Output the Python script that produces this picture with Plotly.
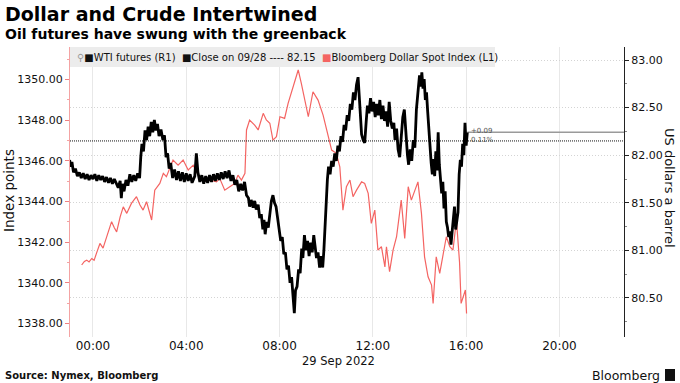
import pandas as pd
import plotly.graph_objects as go

# ---------------- data ----------------
WTI_TIME = [
    "28 23:00", "28 23:03", "28 23:06", "28 23:10", "28 23:15", "28 23:20", "28 23:25", "28 23:30",
    "28 23:35", "28 23:40", "28 23:45", "28 23:50", "28 23:55",
    "29 00:00", "29 00:05", "29 00:10", "29 00:15", "29 00:20", "29 00:25", "29 00:30", "29 00:35",
    "29 00:40", "29 00:45", "29 00:50", "29 00:55", "29 01:00", "29 01:05", "29 01:10", "29 01:13",
    "29 01:16", "29 01:20", "29 01:25", "29 01:30", "29 01:35", "29 01:40", "29 01:45", "29 01:50",
    "29 01:55", "29 02:00", "29 02:03", "29 02:06", "29 02:10", "29 02:14", "29 02:18", "29 02:22",
    "29 02:26", "29 02:30", "29 02:34", "29 02:38", "29 02:42", "29 02:46", "29 02:50", "29 02:55",
    "29 03:00", "29 03:04", "29 03:08", "29 03:12", "29 03:16", "29 03:20", "29 03:25", "29 03:30",
    "29 03:35", "29 03:40", "29 03:45", "29 03:50", "29 03:55", "29 04:00", "29 04:05", "29 04:10",
    "29 04:15", "29 04:22", "29 04:26", "29 04:30", "29 04:35", "29 04:40", "29 04:45", "29 04:50",
    "29 04:55", "29 05:00", "29 05:05", "29 05:10", "29 05:15", "29 05:20", "29 05:25", "29 05:30",
    "29 05:35", "29 05:40", "29 05:45", "29 05:50", "29 05:55", "29 06:00", "29 06:05", "29 06:10",
    "29 06:15", "29 06:20", "29 06:25", "29 06:30", "29 06:35", "29 06:40", "29 06:43", "29 06:47",
    "29 06:52", "29 06:56", "29 07:00", "29 07:05", "29 07:09", "29 07:13", "29 07:17", "29 07:20",
    "29 07:23", "29 07:27", "29 07:31", "29 07:35", "29 07:39", "29 07:43", "29 07:47", "29 07:51",
    "29 07:55", "29 07:59", "29 08:03", "29 08:07", "29 08:11", "29 08:15", "29 08:19", "29 08:23",
    "29 08:27", "29 08:31", "29 08:35", "29 08:38", "29 08:41", "29 08:45", "29 08:49", "29 08:53",
    "29 08:57", "29 09:00", "29 09:04", "29 09:08", "29 09:12", "29 09:16", "29 09:20", "29 09:24",
    "29 09:28", "29 09:32", "29 09:35", "29 09:39", "29 09:43", "29 09:47", "29 09:51", "29 09:54",
    "29 09:57", "29 10:00", "29 10:03", "29 10:06", "29 10:10", "29 10:14", "29 10:18", "29 10:22",
    "29 10:26", "29 10:30", "29 10:34", "29 10:38", "29 10:42", "29 10:46", "29 10:50", "29 10:54",
    "29 10:58", "29 11:02", "29 11:06", "29 11:10", "29 11:14", "29 11:18", "29 11:22", "29 11:25",
    "29 11:28", "29 11:31", "29 11:35", "29 11:39", "29 11:43", "29 11:46", "29 11:50", "29 11:54",
    "29 11:58", "29 12:02", "29 12:06", "29 12:10", "29 12:14", "29 12:18", "29 12:22", "29 12:26",
    "29 12:30", "29 12:34", "29 12:38", "29 12:42", "29 12:46", "29 12:50", "29 12:54", "29 12:57",
    "29 13:01", "29 13:05", "29 13:09", "29 13:13", "29 13:17", "29 13:21", "29 13:25", "29 13:29",
    "29 13:32", "29 13:36", "29 13:40", "29 13:44", "29 13:48", "29 13:52", "29 13:56", "29 14:00",
    "29 14:03", "29 14:06", "29 14:09", "29 14:12", "29 14:15", "29 14:18", "29 14:21", "29 14:24",
    "29 14:27", "29 14:30", "29 14:33", "29 14:36", "29 14:39", "29 14:42", "29 14:45", "29 14:48",
    "29 14:51", "29 14:54", "29 14:57", "29 15:00", "29 15:03", "29 15:06", "29 15:09", "29 15:12",
    "29 15:15", "29 15:18", "29 15:21", "29 15:24", "29 15:27", "29 15:30", "29 15:33", "29 15:36",
    "29 15:39", "29 15:42", "29 15:45", "29 15:48", "29 15:51", "29 15:54", "29 15:57", "29 16:00",
    "29 16:03",
]
WTI_VALUE = [
    81.95, 81.88, 81.93, 81.82, 81.86, 81.78, 81.82, 81.76,
    81.81, 81.75, 81.80, 81.74, 81.79,
    81.75, 81.80, 81.73, 81.79, 81.74, 81.78, 81.72, 81.77,
    81.71, 81.76, 81.70, 81.75, 81.71, 81.66, 81.73, 81.55,
    81.70, 81.62, 81.74, 81.68, 81.80, 81.72, 81.79, 81.73,
    81.81, 81.76, 81.98, 82.12, 82.04, 82.26, 82.16, 82.30,
    82.20, 82.35, 82.24, 82.37, 82.26, 82.33, 82.20, 82.27,
    82.16, 82.21, 81.98, 82.02, 81.86, 81.92, 81.76, 81.85,
    81.74, 81.83, 81.73, 81.82, 81.72, 81.81, 81.73, 81.80,
    81.71, 81.78, 82.02, 81.82, 81.72, 81.79, 81.70, 81.78,
    81.71, 81.79, 81.72, 81.80, 81.73, 81.81, 81.74, 81.82,
    81.75, 81.83, 81.76, 81.84, 81.73, 81.79, 81.69, 81.74,
    81.62, 81.70, 81.63, 81.72, 81.58, 81.55, 81.46, 81.53,
    81.45, 81.52, 81.43, 81.48, 81.34, 81.38, 81.22, 81.32,
    81.17, 81.30, 81.24, 81.36, 81.52, 81.58, 81.50, 81.46,
    81.34, 81.22, 81.10, 81.14, 80.96, 80.98, 80.80, 80.84,
    80.66, 80.72, 80.52, 80.34, 80.58, 80.62, 80.80, 80.76,
    81.02, 80.92, 81.16, 81.00, 81.10, 80.94, 81.08, 80.98,
    81.16, 81.04, 80.92, 80.98, 80.82, 80.94, 80.82, 81.00,
    81.30, 81.56, 81.74, 81.88, 81.80, 81.94, 81.88, 82.02,
    81.94, 82.10, 82.04, 82.20, 82.14, 82.32, 82.26, 82.42,
    82.36, 82.54, 82.48, 82.66, 82.58, 82.74, 82.82, 82.62,
    82.40, 82.22, 82.16, 82.13, 82.36, 82.52, 82.44, 82.60,
    82.46, 82.56, 82.40, 82.54, 82.42, 82.58, 82.38, 82.52,
    82.36, 82.46, 82.30, 82.56, 82.36, 82.28, 82.34, 82.16,
    82.28, 82.06, 81.98, 82.22, 82.40, 82.48, 82.22, 82.00,
    81.90, 82.06, 81.94, 82.16, 82.08, 82.48, 82.66, 82.84,
    82.72, 82.87, 82.70, 82.80, 82.58, 82.66, 82.46, 82.26,
    82.10, 81.92, 81.80, 81.96, 81.78, 82.04, 81.84, 82.24,
    81.90, 81.70, 81.60, 81.72, 81.44, 81.62, 81.30, 81.24,
    81.14, 81.20, 81.06, 81.20, 81.36, 81.46, 81.22, 81.30,
    81.40, 81.80, 81.95, 81.88, 82.12, 82.00, 82.34, 82.10,
    82.24,
]

DXY_TIME = [
    "28 23:31", "28 23:38", "28 23:44", "28 23:50", "28 23:57", "29 00:03", "29 00:09", "29 00:18",
    "29 00:26", "29 00:35", "29 00:42", "29 00:48", "29 00:55", "29 01:01", "29 01:10", "29 01:18",
    "29 01:27", "29 01:39", "29 01:52", "29 02:01", "29 02:09", "29 02:18", "29 02:31", "29 02:39",
    "29 02:52", "29 03:01", "29 03:09", "29 03:26", "29 03:39", "29 03:52", "29 04:05", "29 04:18",
    "29 04:31", "29 04:44", "29 05:01", "29 05:18", "29 05:26", "29 05:39", "29 05:52", "29 06:05",
    "29 06:13", "29 06:22", "29 06:31", "29 06:35", "29 06:43", "29 06:56", "29 07:05", "29 07:18",
    "29 07:26", "29 07:35", "29 07:43", "29 07:52", "29 08:01", "29 08:13", "29 08:22", "29 08:35",
    "29 08:48", "29 08:56", "29 09:05", "29 09:14", "29 09:26", "29 09:39", "29 09:52", "29 10:05",
    "29 10:14", "29 10:26", "29 10:35", "29 10:43", "29 10:52", "29 11:01", "29 11:09", "29 11:18",
    "29 11:31", "29 11:39", "29 11:48", "29 11:56", "29 12:05", "29 12:13", "29 12:22", "29 12:31",
    "29 12:35", "29 12:43", "29 12:52", "29 13:01", "29 13:13", "29 13:22", "29 13:31", "29 13:39",
    "29 13:48", "29 13:56", "29 14:05", "29 14:13", "29 14:22", "29 14:31", "29 14:35", "29 14:43",
    "29 14:52", "29 15:00", "29 15:09", "29 15:18", "29 15:26", "29 15:35", "29 15:43", "29 15:47",
    "29 15:52", "29 15:58", "29 16:01",
]
DXY_VALUE = [
    1340.87, 1341.05, 1341.11, 1341.02, 1341.19, 1341.10, 1341.44, 1341.93,
    1341.70, 1342.26, 1342.60, 1343.00, 1342.70, 1342.50, 1343.24, 1343.73,
    1343.41, 1343.90, 1344.23, 1343.82, 1343.57, 1343.98, 1343.08, 1344.55,
    1344.88, 1345.38, 1345.21, 1346.03, 1345.78, 1346.03, 1345.54, 1345.78,
    1345.29, 1344.96, 1345.05, 1344.96, 1345.13, 1344.55, 1344.72, 1344.88,
    1345.29, 1345.05, 1345.38, 1347.51, 1348.00, 1347.75, 1347.51, 1348.33,
    1348.00, 1347.84, 1347.01, 1347.18, 1348.16, 1348.08, 1348.82, 1349.64,
    1350.46, 1349.80, 1348.90, 1348.16, 1349.39, 1348.98, 1348.24, 1347.18,
    1346.52, 1346.36, 1345.70, 1343.57, 1344.72, 1345.05, 1344.23, 1344.55,
    1344.96, 1344.88, 1344.39, 1342.92, 1343.57, 1341.60, 1341.77, 1340.78,
    1341.77, 1340.54, 1341.60, 1342.26, 1344.06, 1342.18, 1344.72, 1344.06,
    1344.55, 1344.96, 1343.41, 1341.27, 1340.29, 1339.88, 1338.98, 1341.27,
    1340.46, 1341.27, 1342.26, 1341.77, 1341.60, 1343.08, 1341.00, 1338.98,
    1339.31, 1339.64, 1338.49,
]

CLOSE_PREV = 82.15
X_TICKS = ["29 00:00", "29 04:00", "29 08:00", "29 12:00", "29 16:00", "29 20:00"]
X_TICK_TEXT = ["00:00", "04:00", "08:00", "12:00", "16:00", "20:00"]
X_RANGE = ["28 23:01", "29 22:46"]
Y_LEFT_RANGE = [1337.33, 1351.59]
Y_RIGHT_RANGE = [80.09, 83.137]


def ts(lst):
    return pd.to_datetime(["2022-09-" + s for s in lst])


wti_t = ts(WTI_TIME)
dxy_t = ts(DXY_TIME)
xr = ts(X_RANGE)
last_val = WTI_VALUE[-1]
chg = last_val - CLOSE_PREV
chg_pct = chg / CLOSE_PREV * 100

FONT = "DejaVu Sans"
RED = "#f46462"

fig = go.Figure()

# close on 09/28 reference (dotted)
fig.add_trace(go.Scatter(x=[xr[0], xr[1]], y=[CLOSE_PREV, CLOSE_PREV], yaxis="y2",
                         mode="lines", line=dict(color="#111111", width=1, dash="1px,1px"),
                         hoverinfo="skip", showlegend=False))
# last value line
fig.add_trace(go.Scatter(x=[wti_t[-1], xr[1]], y=[last_val, last_val], yaxis="y2",
                         mode="lines", line=dict(color="#9a9a9a", width=1.5),
                         hoverinfo="skip", showlegend=False))
# WTI futures (right axis)
fig.add_trace(go.Scatter(x=wti_t, y=WTI_VALUE, yaxis="y2", mode="lines",
                         line=dict(color="#000000", width=2.8), name="WTI futures (R1)",
                         showlegend=False))
# Bloomberg Dollar Spot Index (left axis)
fig.add_trace(go.Scatter(x=dxy_t, y=DXY_VALUE, yaxis="y", mode="lines",
                         line=dict(color=RED, width=1.2), name="Bloomberg Dollar Spot Index (L1)",
                         showlegend=False))

W, H = 680, 383
L, R, T, B = 70, 56, 47, 46
PW, PH = W - L - R, H - T - B


def px(x):
    return (x - L) / PW


def py(y):
    return (H - B - y) / PH


annotations = [
    dict(text="<b>Dollar and Crude Intertwined</b>", x=px(3), y=py(14), xref="paper", yref="paper",
         xanchor="left", yanchor="middle", showarrow=False, font=dict(size=19, color="#000", family=FONT)),
    dict(text="<b>Oil futures have swung with the greenback</b>", x=px(3), y=py(34), xref="paper",
         yref="paper", xanchor="left", yanchor="middle", showarrow=False,
         font=dict(size=14, color="#000", family=FONT)),
    dict(text=('<span style="color:#9a9a9a">⚲</span>■WTI futures (R1)  ■Close on 09/28 ---- '
               f'{CLOSE_PREV:.2f}  <span style="color:{RED}">■</span>Bloomberg Dollar Spot Index (L1)'),
         x=px(75), y=py(58), xref="paper", yref="paper", xanchor="left", yanchor="middle",
         showarrow=False, font=dict(size=10, color="#111", family=FONT)),
    dict(text="Index points", x=px(9), y=py(191), xref="paper", yref="paper", textangle=-90,
         xanchor="center", yanchor="middle", showarrow=False, font=dict(size=13.5, color="#111", family=FONT)),
    dict(text="US dollars a barrel", x=px(670), y=py(188), xref="paper", yref="paper", textangle=90,
         xanchor="center", yanchor="middle", showarrow=False, font=dict(size=13, color="#111", family=FONT)),
    dict(text="29 Sep 2022", x=px(338), y=py(361), xref="paper", yref="paper",
         xanchor="center", yanchor="middle", showarrow=False, font=dict(size=11.5, color="#111", family=FONT)),
    dict(text="<b>Source: Nymex, Bloomberg</b>", x=px(3), y=py(375), xref="paper", yref="paper",
         xanchor="left", yanchor="middle", showarrow=False, font=dict(size=10, color="#111", family=FONT)),
    dict(text="Bloomberg", x=px(662), y=py(375), xref="paper", yref="paper",
         xanchor="right", yanchor="middle", showarrow=False, font=dict(size=12.5, color="#111", family=FONT)),
    dict(text=f"+{chg:.2f}", x=wti_t[-1], y=last_val, xref="x", yref="y2", xshift=2, yshift=1,
         xanchor="left", yanchor="middle", showarrow=False, font=dict(size=7, color="#555", family=FONT)),
    dict(text=f"{chg_pct:.2f}%", x=wti_t[-1], y=last_val, xref="x", yref="y2", xshift=2, yshift=-8,
         xanchor="left", yanchor="middle", showarrow=False, font=dict(size=7, color="#555", family=FONT)),
]

shapes = [
    dict(type="rect", xref="paper", yref="paper", x0=px(70), x1=px(495), y0=py(67), y1=py(47),
         fillcolor="#ececec", line=dict(width=0), layer="above"),
    dict(type="rect", xref="paper", yref="paper", x0=px(665), x1=px(675), y0=py(381), y1=py(369),
         fillcolor="#111", line=dict(width=0)),
]

fig.update_layout(
    width=W, height=H,
    margin=dict(l=L, r=R, t=T, b=B, pad=0),
    paper_bgcolor="white", plot_bgcolor="white",
    font=dict(family=FONT, size=11, color="#111"),
    showlegend=False,
    xaxis=dict(type="date", range=[xr[0], xr[1]], tickvals=ts(X_TICKS), ticktext=X_TICK_TEXT,
               showgrid=True, gridcolor="#e8e8e8", gridwidth=1, showline=False, zeroline=False,
               ticks="", tickfont=dict(size=12, color="#111")),
    yaxis=dict(range=Y_LEFT_RANGE, dtick=2, tick0=1338, tickformat=".2f", showgrid=False,
               zeroline=False, showline=True, linecolor="#f4a3a3", linewidth=1,
               ticks="outside", ticklen=4, tickcolor="#f08080",
               minor=dict(ticks="outside", ticklen=2, tickcolor="#f4a3a3", dtick=1, showgrid=False),
               tickfont=dict(size=11, color="#111")),
    yaxis2=dict(range=Y_RIGHT_RANGE, overlaying="y", side="right", anchor="x", dtick=0.5, tick0=80.5,
                tickformat=".2f", showgrid=True, gridcolor="#d4d4d4", griddash="1px,2px", gridwidth=1,
                zeroline=False, showline=True, linecolor="#222", linewidth=1,
                ticks="outside", ticklen=4, tickcolor="#222",
                minor=dict(ticks="outside", ticklen=2, tickcolor="#888", dtick=0.25, showgrid=False),
                tickfont=dict(size=11, color="#111")),
    annotations=annotations,
    shapes=shapes,
)

fig.write_html("out.html", config={"displayModeBar": False},
               post_script="document.body.style.margin='0';document.body.style.overflow='hidden';")
